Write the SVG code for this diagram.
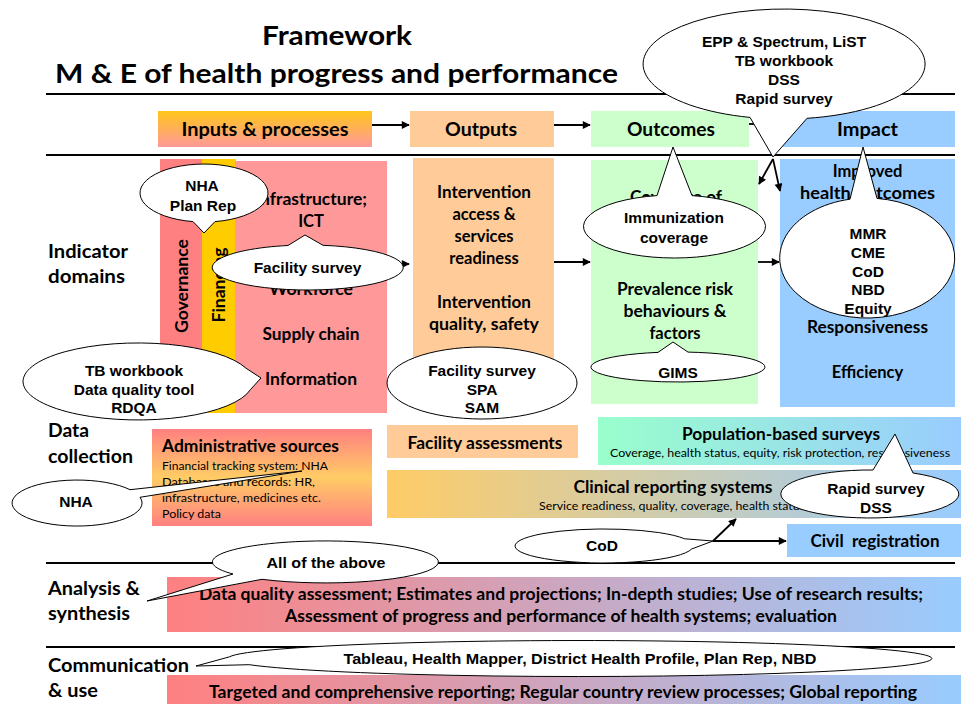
<svg xmlns="http://www.w3.org/2000/svg" width="961" height="704" viewBox="0 0 961 704">
  <defs>
    <linearGradient id="gInputs" x1="0" y1="0" x2="0" y2="1">
      <stop offset="0" stop-color="#FFC61A"/>
      <stop offset="1" stop-color="#FF9999"/>
    </linearGradient>
    <linearGradient id="gAdmin" x1="0" y1="0" x2="0" y2="1">
      <stop offset="0" stop-color="#FF8080"/>
      <stop offset="0.5" stop-color="#FFCC66"/>
      <stop offset="1" stop-color="#FF8080"/>
    </linearGradient>
    <linearGradient id="gPop" x1="0" y1="0" x2="1" y2="0">
      <stop offset="0" stop-color="#99FFCC"/>
      <stop offset="1" stop-color="#99CCFF"/>
    </linearGradient>
    <linearGradient id="gClin" x1="0" y1="0" x2="1" y2="0">
      <stop offset="0" stop-color="#FFCC66"/>
      <stop offset="1" stop-color="#99CCFF"/>
    </linearGradient>
    <linearGradient id="gSyn" x1="0" y1="0" x2="1" y2="0">
      <stop offset="0" stop-color="#FF8080"/>
      <stop offset="1" stop-color="#99CCFF"/>
    </linearGradient>
    <marker id="ah" viewBox="0 0 10 10" refX="9" refY="5" markerWidth="9" markerHeight="8" markerUnits="userSpaceOnUse" orient="auto">
      <path d="M0,0 L10,5 L0,10 Z" fill="#000"/>
    </marker>
    <style>
      .t { font-family: Lato, "Liberation Sans", sans-serif; font-weight: bold; fill: #000; }
      .s { font-family: Lato, "Liberation Sans", sans-serif; font-weight: normal; fill: #000; }
      .c { font-family: "Liberation Sans", Arial, sans-serif; font-weight: bold; font-size: 15.5px; fill: #000; text-anchor: middle; }
      .m { text-anchor: middle; }
      .bubble { fill: #fff; stroke: #000; stroke-width: 1; }
      .rule { stroke: #000; stroke-width: 2.2; }
      .conn { stroke: #000; stroke-width: 1.8; fill: none; marker-end: url(#ah); }
    </style>
  </defs>

  <rect width="961" height="704" fill="#fff"/>

  <!-- title -->
  <g id="title">
    <text class="t m" x="337" y="45" font-size="27" textLength="150" lengthAdjust="spacingAndGlyphs">Framework</text>
    <text class="t" x="55" y="83" font-size="27" textLength="563" lengthAdjust="spacingAndGlyphs">M &amp; E of health progress and performance</text>
  </g>

  <!-- section rules -->
  <g id="rules">
    <line class="rule" x1="46" y1="94" x2="955" y2="94"/>
    <line class="rule" x1="46" y1="155" x2="955" y2="155"/>
    <line class="rule" x1="46" y1="563" x2="955" y2="563"/>
    <line class="rule" x1="46" y1="647" x2="955" y2="647"/>
  </g>

  <!-- row labels -->
  <g id="row-labels" font-size="18">
    <text class="t" x="48" y="258" textLength="80" lengthAdjust="spacingAndGlyphs">Indicator</text>
    <text class="t" x="48" y="283" textLength="77" lengthAdjust="spacingAndGlyphs">domains</text>
    <text class="t" x="48" y="437" textLength="41" lengthAdjust="spacingAndGlyphs">Data</text>
    <text class="t" x="48" y="463" textLength="85" lengthAdjust="spacingAndGlyphs">collection</text>
    <text class="t" x="48" y="595" textLength="92" lengthAdjust="spacingAndGlyphs">Analysis &amp;</text>
    <text class="t" x="48" y="620" textLength="82" lengthAdjust="spacingAndGlyphs">synthesis</text>
    <text class="t" x="48" y="672" textLength="141" lengthAdjust="spacingAndGlyphs">Communication</text>
    <text class="t" x="48" y="697" textLength="50" lengthAdjust="spacingAndGlyphs">&amp; use</text>
  </g>

  <!-- header row -->
  <g id="inputs-head">
    <rect x="158" y="111" width="214" height="36" fill="url(#gInputs)"/>
    <text class="t m" x="265" y="136" font-size="18.5" textLength="167" lengthAdjust="spacingAndGlyphs">Inputs &amp; processes</text>
  </g>
  <g id="outputs-head">
    <rect x="410" y="111" width="144" height="36" fill="#FFCC99"/>
    <text class="t m" x="481" y="136" font-size="18.5" textLength="72" lengthAdjust="spacingAndGlyphs">Outputs</text>
  </g>
  <g id="outcomes-head">
    <rect x="591" y="111" width="158" height="36" fill="#CCFFCC"/>
    <text class="t m" x="671" y="136" font-size="18.5" textLength="88" lengthAdjust="spacingAndGlyphs">Outcomes</text>
  </g>
  <g id="impact-head">
    <rect x="780" y="111" width="175" height="36" fill="#99CCFF"/>
    <text class="t m" x="867.5" y="136" font-size="18.5" textLength="61" lengthAdjust="spacingAndGlyphs">Impact</text>
  </g>

  <!-- indicator domains -->
  <g id="governance">
    <rect x="160" y="159" width="42" height="254" fill="#FF8080"/>
    <text class="t m" font-size="16.5" transform="translate(188,286) rotate(-90)" textLength="94" lengthAdjust="spacingAndGlyphs">Governance</text>
  </g>
  <g id="financing">
    <rect x="202" y="159" width="34" height="254" fill="#FFCC00"/>
    <text class="t m" font-size="16.5" transform="translate(225,285) rotate(-90)" textLength="75" lengthAdjust="spacingAndGlyphs">Financing</text>
  </g>
  <g id="inputs-body" font-size="16.5">
    <rect x="235" y="161" width="152" height="252" fill="#FF9999"/>
    <text class="t m" x="311" y="205" textLength="112" lengthAdjust="spacingAndGlyphs">Infrastructure;</text>
    <text class="t m" x="311" y="227">ICT</text>
    <text class="t m" x="311" y="295" textLength="84" lengthAdjust="spacingAndGlyphs">Workforce</text>
    <text class="t m" x="311" y="340" textLength="97" lengthAdjust="spacingAndGlyphs">Supply chain</text>
    <text class="t m" x="311" y="385" textLength="92" lengthAdjust="spacingAndGlyphs">Information</text>
  </g>
  <g id="outputs-body" font-size="16.5">
    <rect x="413" y="158" width="141" height="247" fill="#FFCC99"/>
    <text class="t m" x="484" y="198" textLength="94" lengthAdjust="spacingAndGlyphs">Intervention</text>
    <text class="t m" x="484" y="220">access &amp;</text>
    <text class="t m" x="484" y="242">services</text>
    <text class="t m" x="484" y="264">readiness</text>
    <text class="t m" x="484" y="308" textLength="94" lengthAdjust="spacingAndGlyphs">Intervention</text>
    <text class="t m" x="484" y="330" textLength="110" lengthAdjust="spacingAndGlyphs">quality, safety</text>
  </g>
  <g id="outcomes-body" font-size="16.5">
    <rect x="591" y="160" width="167" height="244" fill="#CCFFCC"/>
    <text class="t m" x="676" y="203" textLength="92" lengthAdjust="spacingAndGlyphs">Coverage of</text>
    <text class="t m" x="675" y="295" textLength="116" lengthAdjust="spacingAndGlyphs">Prevalence risk</text>
    <text class="t m" x="675" y="317" textLength="103" lengthAdjust="spacingAndGlyphs">behaviours &amp;</text>
    <text class="t m" x="675" y="339">factors</text>
  </g>
  <g id="impact-body" font-size="16.5">
    <rect x="780" y="159" width="175" height="248" fill="#99CCFF"/>
    <text class="t m" x="867.5" y="177">Improved</text>
    <text class="t m" x="867.5" y="199" textLength="135" lengthAdjust="spacingAndGlyphs">health outcomes</text>
    <text class="t m" x="867.5" y="333" textLength="121" lengthAdjust="spacingAndGlyphs">Responsiveness</text>
    <text class="t m" x="867.5" y="378">Efficiency</text>
  </g>

  <!-- data collection -->
  <g id="admin-sources">
    <rect x="152" y="429" width="220" height="97" fill="url(#gAdmin)"/>
    <text class="t" x="162" y="452" font-size="16.5" textLength="177" lengthAdjust="spacingAndGlyphs">Administrative sources</text>
    <text class="s" x="162" y="470" font-size="12" textLength="166" lengthAdjust="spacingAndGlyphs">Financial tracking system: NHA</text>
    <text class="s" x="162" y="486" font-size="12" textLength="153" lengthAdjust="spacingAndGlyphs">Databases and records: HR,</text>
    <text class="s" x="162" y="502" font-size="12" textLength="159" lengthAdjust="spacingAndGlyphs">infrastructure, medicines etc.</text>
    <text class="s" x="162" y="518" font-size="12" textLength="59" lengthAdjust="spacingAndGlyphs">Policy data</text>
  </g>
  <g id="facility-assessments">
    <rect x="387" y="425" width="191" height="33" fill="#FFCC99"/>
    <text class="t m" x="485" y="449" font-size="16.5" textLength="155" lengthAdjust="spacingAndGlyphs">Facility assessments</text>
  </g>
  <g id="population-surveys">
    <rect x="598" y="417" width="363" height="48" fill="url(#gPop)"/>
    <text class="t m" x="781" y="440" font-size="16.5" textLength="198" lengthAdjust="spacingAndGlyphs">Population-based surveys</text>
    <text class="s m" x="780" y="457" font-size="11.5" textLength="340" lengthAdjust="spacingAndGlyphs">Coverage, health status, equity, risk protection, responsiveness</text>
  </g>
  <g id="clinical-reporting">
    <rect x="387" y="470" width="574" height="48" fill="url(#gClin)"/>
    <text class="t m" x="673" y="493" font-size="16.5" textLength="199" lengthAdjust="spacingAndGlyphs">Clinical reporting systems</text>
    <text class="s" x="539" y="510" font-size="11.5" textLength="266" lengthAdjust="spacingAndGlyphs">Service readiness, quality, coverage, health status</text>
  </g>
  <g id="civil-registration">
    <rect x="787" y="524" width="174" height="33" fill="#99CCFF"/>
    <text class="t m" x="875" y="547" font-size="16.5" xml:space="preserve" textLength="129" lengthAdjust="spacingAndGlyphs">Civil  registration</text>
  </g>

  <!-- analysis and communication bands -->
  <g id="analysis">
    <rect x="167" y="577" width="794" height="55" fill="url(#gSyn)"/>
    <text class="t m" x="561" y="600" font-size="16.5" textLength="724" lengthAdjust="spacingAndGlyphs">Data quality assessment; Estimates and projections; In-depth studies; Use of research results;</text>
    <text class="t m" x="561" y="622" font-size="16.5" textLength="552" lengthAdjust="spacingAndGlyphs">Assessment of progress and performance of health systems; evaluation</text>
  </g>
  <g id="communication">
    <rect x="167" y="675" width="794" height="29" fill="url(#gSyn)"/>
    <text class="t m" x="563" y="698" font-size="16.5" textLength="708" lengthAdjust="spacingAndGlyphs">Targeted and comprehensive reporting; Regular country review processes; Global reporting</text>
  </g>

  <!-- connectors -->
  <g id="connectors">
    <line class="conn" x1="372" y1="125" x2="409" y2="125"/>
    <line class="conn" x1="554" y1="125" x2="590" y2="125"/>
    <line class="conn" x1="749" y1="124" x2="779" y2="124"/>
    <line class="conn" x1="387" y1="264" x2="409" y2="264"/>
    <line class="conn" x1="554" y1="262" x2="590" y2="262"/>
    <line class="conn" x1="758" y1="262" x2="779" y2="262"/>
    <line class="conn" x1="773" y1="159" x2="759" y2="184" stroke-width="1.3"/>
    <line class="conn" x1="773" y1="159" x2="780" y2="191" stroke-width="1.3"/>
    <line class="conn" x1="713" y1="541" x2="786" y2="541" stroke-width="1.5"/>
    <line class="conn" x1="713" y1="541" x2="736" y2="519" stroke-width="1.3"/>
  </g>

  <!-- tool callouts -->
  <g id="callout-models">
    <path class="bubble" d="M750,117.4 L773,157 L807,118.3 A141,55 0 1 0 750,117.4 Z"/>
    <text class="c" x="784" y="47">EPP &amp; Spectrum, LiST</text>
    <text class="c" x="784" y="66">TB workbook</text>
    <text class="c" x="784" y="85">DSS</text>
    <text class="c" x="784" y="104">Rapid survey</text>
  </g>
  <g id="callout-nha-planrep">
    <path class="bubble" d="M193,221.6 L204,233 L215,221.6 A64,29 0 1 0 193,221.6 Z"/>
    <text class="c" x="202" y="191">NHA</text>
    <text class="c" x="203" y="211">Plan Rep</text>
  </g>
  <g id="callout-facility-survey">
    <path class="bubble" d="M288,245.5 L305,235 L323,245.3 A95.5,22.5 0 1 1 288,245.5 Z"/>
    <text class="c" x="307.5" y="272.5">Facility survey</text>
  </g>
  <g id="callout-immunization">
    <path class="bubble" d="M657,195.6 L673,147 L692,195.6 A91,31.5 0 1 1 657,195.6 Z"/>
    <text class="c" x="674" y="222.5">Immunization</text>
    <text class="c" x="674" y="242.5">coverage</text>
  </g>
  <g id="callout-gims">
    <path class="bubble" d="M658,352.4 L673,342 L688,352.1 A87,15 0 1 1 658,352.4 Z"/>
    <text class="c" x="678" y="377.5">GIMS</text>
  </g>
  <g id="callout-mortality">
    <path class="bubble" d="M850,199.2 L863,147 L877,198.4 A87.5,60 0 1 1 850,199.2 Z"/>
    <text class="c" x="868" y="238.5">MMR</text>
    <text class="c" x="868" y="257.5">CME</text>
    <text class="c" x="868" y="276.5">CoD</text>
    <text class="c" x="868" y="295">NBD</text>
    <text class="c" x="868" y="314">Equity</text>
  </g>
  <g id="callout-data-quality">
    <path class="bubble" d="M246.1,368.3 L261,378 L250.5,389.5 A115,38.5 0 1 1 246.1,368.3 Z"/>
    <text class="c" x="134" y="375.5">TB workbook</text>
    <text class="c" x="134" y="394.5">Data quality tool</text>
    <text class="c" x="134" y="412.5">RDQA</text>
  </g>
  <g id="callout-spa-sam">
    <ellipse class="bubble" cx="482" cy="383" rx="95" ry="36"/>
    <text class="c" x="482" y="375.5">Facility survey</text>
    <text class="c" x="482" y="394.5">SPA</text>
    <text class="c" x="482" y="412.5">SAM</text>
  </g>
  <g id="callout-nha">
    <path class="bubble" d="M130,489.7 L302,471 L140,497.3 A65,23 0 1 1 130,489.7 Z"/>
    <text class="c" x="76" y="507">NHA</text>
  </g>
  <g id="callout-rapid-dss">
    <path class="bubble" d="M873,470 L895,434 L913,473 A89,24 0 1 1 873,470 Z"/>
    <text class="c" x="876" y="493.5">Rapid survey</text>
    <text class="c" x="876" y="512.5">DSS</text>
  </g>
  <g id="callout-cod">
    <path class="bubble" d="M684.7,538.8 L713,541 L691.6,549 A89,17 0 1 1 684.7,538.8 Z"/>
    <text class="c" x="602" y="551">CoD</text>
  </g>
  <g id="callout-all">
    <path class="bubble" d="M233,574 L147,601 L262,579.3 A113,21 0 1 0 233,574 Z"/>
    <text class="c" x="326" y="568" font-size="15" textLength="119" lengthAdjust="spacingAndGlyphs">All of the above</text>
  </g>
  <g id="callout-dissemination">
    <path class="bubble" d="M229.3,656.9 L196,666 L249.2,664.7 A352,18 0 1 0 229.3,656.9 Z"/>
    <text class="c" x="580" y="663.5" font-size="15" textLength="473" lengthAdjust="spacingAndGlyphs">Tableau, Health Mapper, District Health Profile, Plan Rep, NBD</text>
  </g>
</svg>
